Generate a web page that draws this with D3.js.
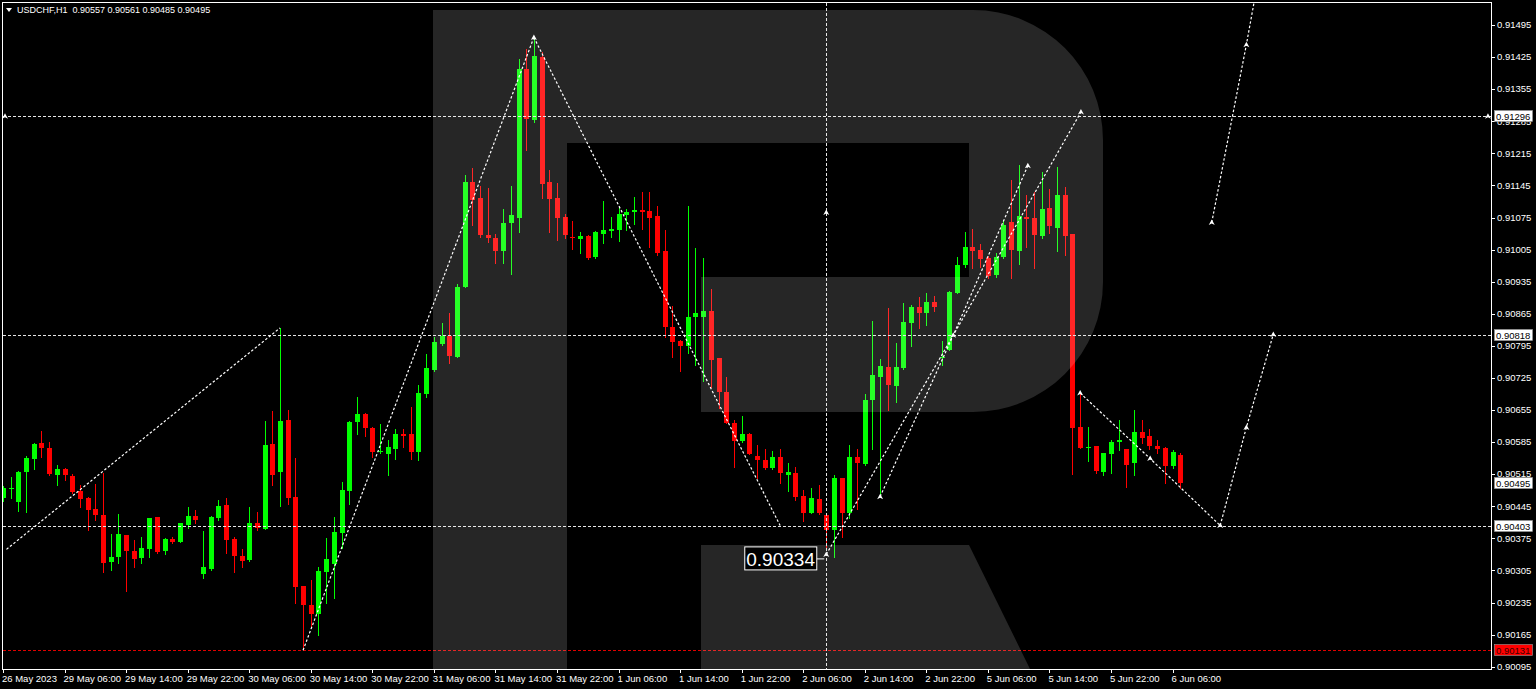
<!DOCTYPE html>
<html><head><meta charset="utf-8">
<script src="https://cdn.jsdelivr.net/npm/d3@7"></script>
<style>html,body{margin:0;padding:0;background:#000;overflow:hidden}svg{display:block}</style>
</head><body>
<svg id="c" width="1536" height="689"></svg>
<script>
// ---------- DATA ----------
const symbol = "USDCHF,H1";
const opens = [0.90462,0.90484,0.90455,0.90519,0.90549,0.90584,0.90573,0.90513,0.90527,0.90512,
0.90478,0.90464,0.90439,0.90426,0.90324,0.90335,0.90382,0.90348,0.90333,0.90351,
0.90421,0.90347,0.90374,0.90368,0.90405,0.90423,0.90297,0.90309,0.90419,0.90447,
0.90373,0.90337,0.90328,0.90408,0.90396,0.90581,0.90520,0.90634,0.90466,0.90271,
0.90229,0.90210,0.90302,0.90320,0.90387,0.90479,0.90628,0.90646,0.90616,0.90563,
0.90559,0.90570,0.90603,0.90603,0.90564,0.90691,0.90742,0.90800,0.90816,0.90771,
0.90924,0.91152,0.91117,0.91037,0.91031,0.91003,0.91062,0.91075,0.91398,0.91288,
0.91426,0.91152,0.91117,0.91077,0.91033,0.91029,0.91035,0.90988,0.91039,0.91046,
0.91048,0.91080,0.91087,0.91091,0.91089,0.91079,0.91002,0.90837,0.90806,0.90795,
0.90857,0.90859,0.90871,0.90768,0.90695,0.90627,0.90588,0.90603,0.90555,0.90547,
0.90528,0.90553,0.90513,0.90518,0.90467,0.90431,0.90460,0.90426,0.90393,0.90506,
0.90430,0.90553,0.90537,0.90676,0.90728,0.90749,0.90707,0.90746,0.90845,0.90879,
0.90866,0.90891,0.90770,0.90786,0.90911,0.90971,0.91010,0.91004,0.90986,0.90950,
0.90989,0.91066,0.91003,0.91077,0.91073,0.91035,0.91096,0.91053,0.91124,0.91038,
0.90617,0.90572,0.90576,0.90520,0.90559,0.90586,0.90569,0.90539,0.90606,0.90599,
0.90576,0.90573,0.90532,0.90557];
const highs = [0.90489,0.90509,0.90521,0.90555,0.90582,0.90609,0.90586,0.90535,0.90529,0.90515,
0.90491,0.90466,0.90493,0.90518,0.90384,0.90428,0.90383,0.90371,0.90377,0.90420,
0.90422,0.90376,0.90377,0.90409,0.90443,0.90437,0.90391,0.90424,0.90459,0.90464,
0.90377,0.90351,0.90443,0.90433,0.90630,0.90653,0.90834,0.90655,0.90550,0.90272,
0.90285,0.90313,0.90376,0.90421,0.90499,0.90630,0.90684,0.90648,0.90619,0.90624,
0.90589,0.90613,0.90613,0.90662,0.90709,0.90777,0.90814,0.90845,0.90866,0.90930,
0.91168,0.91182,0.91144,0.91140,0.91040,0.91094,0.91144,0.91421,0.91443,0.91468,
0.91437,0.91179,0.91150,0.91082,0.91068,0.91043,0.91036,0.91046,0.91111,0.91077,
0.91097,0.91094,0.91120,0.91130,0.91131,0.91100,0.91048,0.90883,0.90808,0.91100,
0.91008,0.90986,0.90918,0.90769,0.90728,0.90633,0.90643,0.90604,0.90579,0.90571,
0.90566,0.90571,0.90540,0.90531,0.90480,0.90484,0.90491,0.90427,0.90513,0.90507,
0.90579,0.90569,0.90689,0.90850,0.90766,0.90877,0.90802,0.90889,0.90884,0.90902,
0.90910,0.90904,0.90806,0.90914,0.90988,0.91044,0.91049,0.91017,0.90991,0.90998,
0.91070,0.91157,0.91190,0.91124,0.91131,0.91174,0.91137,0.91186,0.91141,0.91040,
0.90694,0.90617,0.90577,0.90562,0.90589,0.90634,0.90570,0.90654,0.90634,0.90613,
0.90590,0.90574,0.90568,0.90561];
const lows = [0.90456,0.90462,0.90435,0.90433,0.90526,0.90553,0.90513,0.90491,0.90502,0.90473,
0.90444,0.90393,0.90415,0.90302,0.90307,0.90322,0.90261,0.90313,0.90322,0.90335,
0.90342,0.90341,0.90364,0.90366,0.90398,0.90409,0.90288,0.90307,0.90415,0.90342,
0.90302,0.90312,0.90326,0.90393,0.90395,0.90491,0.90446,0.90450,0.90235,0.90131,
0.90182,0.90164,0.90233,0.90244,0.90355,0.90451,0.90603,0.90598,0.90552,0.90562,
0.90513,0.90548,0.90575,0.90548,0.90546,0.90683,0.90740,0.90797,0.90757,0.90770,
0.90923,0.91059,0.91033,0.91021,0.90976,0.90976,0.90952,0.91043,0.91222,0.91284,
0.91117,0.91044,0.91027,0.91030,0.91006,0.90998,0.90984,0.90986,0.91019,0.91033,
0.91024,0.91048,0.91061,0.91049,0.91010,0.90993,0.90815,0.90771,0.90740,0.90780,
0.90753,0.90719,0.90706,0.90659,0.90626,0.90530,0.90586,0.90559,0.90506,0.90526,
0.90526,0.90496,0.90479,0.90459,0.90413,0.90430,0.90428,0.90349,0.90334,0.90378,
0.90419,0.90440,0.90535,0.90571,0.90466,0.90655,0.90673,0.90744,0.90795,0.90833,
0.90840,0.90872,0.90753,0.90785,0.90910,0.90968,0.90964,0.90968,0.90942,0.90946,
0.90986,0.90942,0.90974,0.91010,0.90964,0.91030,0.91042,0.91003,0.90993,0.90515,
0.90572,0.90543,0.90518,0.90513,0.90518,0.90567,0.90486,0.90514,0.90582,0.90570,
0.90561,0.90495,0.90529,0.90485];
const closes = [0.90484,0.90485,0.90520,0.90550,0.90581,0.90572,0.90515,0.90526,0.90513,0.90476,
0.90461,0.90437,0.90426,0.90322,0.90334,0.90384,0.90347,0.90330,0.90353,0.90419,
0.90346,0.90374,0.90368,0.90408,0.90424,0.90415,0.90313,0.90422,0.90446,0.90371,
0.90336,0.90326,0.90408,0.90397,0.90578,0.90513,0.90632,0.90462,0.90269,0.90229,
0.90210,0.90304,0.90330,0.90389,0.90480,0.90629,0.90646,0.90616,0.90564,0.90566,
0.90574,0.90603,0.90599,0.90564,0.90693,0.90747,0.90804,0.90816,0.90773,0.90924,
0.91153,0.91113,0.91037,0.91031,0.91003,0.91062,0.91080,0.91398,0.91290,0.91427,
0.91148,0.91115,0.91075,0.91037,0.91030,0.91035,0.90986,0.91044,0.91048,0.91050,
0.91083,0.91088,0.91091,0.91086,0.91075,0.90998,0.90837,0.90804,0.90795,0.90859,
0.90866,0.90871,0.90764,0.90695,0.90627,0.90588,0.90603,0.90560,0.90547,0.90528,
0.90553,0.90517,0.90520,0.90466,0.90430,0.90462,0.90430,0.90393,0.90506,0.90430,
0.90553,0.90539,0.90677,0.90731,0.90751,0.90709,0.90748,0.90848,0.90879,0.90867,
0.90891,0.90880,0.90771,0.90913,0.90971,0.91010,0.91003,0.90984,0.90947,0.90989,
0.91059,0.91004,0.91079,0.91071,0.91037,0.91094,0.91056,0.91124,0.91035,0.90615,
0.90573,0.90575,0.90522,0.90561,0.90585,0.90590,0.90535,0.90606,0.90595,0.90576,
0.90571,0.90533,0.90563,0.90495];
const timeLabels = ["26 May 2023","29 May 06:00","29 May 14:00","29 May 22:00","30 May 06:00",
"30 May 14:00","30 May 22:00","31 May 06:00","31 May 14:00","31 May 22:00","1 Jun 06:00",
"1 Jun 14:00","1 Jun 22:00","2 Jun 06:00","2 Jun 14:00","2 Jun 22:00","5 Jun 06:00",
"5 Jun 14:00","5 Jun 22:00","6 Jun 06:00"];
const barsPerLabel = 8;
const priceTicks = [0.91495,0.91425,0.91355,0.91285,0.91215,0.91145,0.91075,0.91005,0.90935,
0.90865,0.90795,0.90725,0.90655,0.90585,0.90515,0.90445,0.90375,0.90305,0.90235,0.90165,0.90095];
const levelLines = [0.91296, 0.90818, 0.90403];
const supportLevel = 0.90131;
const verticalLineBar = 107;
const lowMarker = {bar:107, price:0.90340, text:"0.90334"};
// forecast paths: [bar index, price]
const forecastLines = [
  [[0.45,0.90351],[36,0.90834]],
  [[39,0.90131],[69,0.91468]],
  [[69,0.91468],[101,0.90403]],
  [[107,0.90340],[123.5,0.90818],[140.1,0.91305]],
  [[114,0.90466],[123.5,0.90818],[133.2,0.91188]],
  [[140,0.90692],[149.1,0.90549],[158.2,0.90403]],
  [[158.2,0.90403],[161.6,0.90617],[165.1,0.90820]],
  [[157.1,0.91064],[161.6,0.91452],[163.2,0.91600]]
];
const arrowMarks = [[0.26,0.91296],[193,0.91296],[69,0.91468],[107,0.91086],[107,0.90340],
  [114,0.90466],[123.5,0.90818],[133.2,0.91188],[140.1,0.91305],[140,0.90692],[149.1,0.90549],
  [158.2,0.90403],[161.6,0.90617],[165.1,0.90820],[157.1,0.91064],[161.6,0.91452]];

// ---------- DRAW ----------
const W=1536,H=689;
const P={l:3,t:3,r:1491,b:669};
const FONT="'Liberation Sans', Arial, sans-serif";
const x=d3.scaleLinear().domain([0,152]).range([3,1172.5]);
const y=d3.scaleLinear().domain([0.90095,0.91495]).range([666.7,25]);
const svg=d3.select('#c');
svg.append('rect').attr('width',W).attr('height',H).attr('fill','#000');
svg.append('defs').append('clipPath').attr('id','clip').append('rect')
  .attr('x',P.l).attr('y',P.t).attr('width',P.r-P.l).attr('height',P.b-P.t);
const g=svg.append('g').attr('clip-path','url(#clip)');

const bars=opens.map((o,i)=>({i,o,h:highs[i],l:lows[i],c:closes[i]}));
const GREEN='#00ff00', RED='#ff0000';
const cg=g.append('g').attr('shape-rendering','crispEdges');
cg.selectAll('line.w').data(bars).join('line').attr('class','w')
  .attr('x1',d=>Math.round(x(d.i))+0.5).attr('x2',d=>Math.round(x(d.i))+0.5)
  .attr('y1',d=>Math.round(y(d.h))).attr('y2',d=>Math.round(y(d.l))+1)
  .attr('stroke',d=>d.c>=d.o?GREEN:RED).attr('stroke-width',1);
cg.selectAll('rect.b').data(bars).join('rect').attr('class','b')
  .attr('x',d=>Math.round(x(d.i))-2).attr('width',5)
  .attr('y',d=>Math.round(y(Math.max(d.o,d.c))))
  .attr('height',d=>Math.max(1,Math.round(y(Math.min(d.o,d.c)))-Math.round(y(Math.max(d.o,d.c)))))
  .attr('fill',d=>d.c>=d.o?GREEN:RED);

// level lines
const lg=g.append('g').attr('shape-rendering','crispEdges');
lg.selectAll('line.lv').data(levelLines).join('line')
  .attr('x1',P.l).attr('x2',P.r).attr('y1',d=>Math.round(y(d))+0.5).attr('y2',d=>Math.round(y(d))+0.5)
  .attr('stroke','#e6e6e6').attr('stroke-dasharray','3,2');
lg.append('line').attr('x1',P.l).attr('x2',P.r)
  .attr('y1',Math.round(y(supportLevel))+0.5).attr('y2',Math.round(y(supportLevel))+0.5)
  .attr('stroke','#e00000').attr('stroke-dasharray','3,2');
lg.append('line').attr('x1',Math.round(x(verticalLineBar))+0.5).attr('x2',Math.round(x(verticalLineBar))+0.5)
  .attr('y1',P.t).attr('y2',P.b).attr('stroke','#e6e6e6').attr('stroke-dasharray','3,2');

// forecast lines
const line=d3.line().x(d=>x(d[0])).y(d=>y(d[1]));
g.selectAll('path.fc').data(forecastLines).join('path')
  .attr('d',line).attr('fill','none').attr('stroke','#ffffff').attr('stroke-width',1.2)
  .attr('stroke-dasharray','2.5,2');
g.selectAll('path.am').data(arrowMarks).join('path')
  .attr('transform',d=>`translate(${x(d[0])},${y(d[1])})`)
  .attr('d','M-3,2.5 L0,-3 L3,2.5 L0,1 Z').attr('fill','#fff');

// watermark (logo, drawn over as a translucent shape)
g.append('path')
  .attr('d','M433,10 H567 V669 H433 Z M567,10 H973 A130,130 0 0 1 1103,140 V282 A130,130 0 0 1 973,412 H701 V277 H969 V143 H567 Z M701,545 H969 L1030,669 H701 Z')
  .attr('fill','rgba(255,255,255,0.15)');

// frame
svg.append('rect').attr('x',P.l-0.5).attr('y',P.t-0.5).attr('width',P.r-P.l+1).attr('height',P.b-P.t+1)
  .attr('fill','none').attr('stroke','#ffffff').attr('stroke-width',1).attr('shape-rendering','crispEdges');

// price axis
const pa=svg.append('g').attr('font-family',FONT).attr('font-size','9.5px').attr('fill','#fff');
pa.selectAll('line').data(priceTicks).join('line').attr('shape-rendering','crispEdges')
  .attr('x1',P.r).attr('x2',P.r+4).attr('y1',d=>Math.round(y(d))+0.5).attr('y2',d=>Math.round(y(d))+0.5)
  .attr('stroke','#fff');
pa.selectAll('text').data(priceTicks).join('text')
  .attr('x',1497).attr('y',d=>y(d)+3.3).text(d=>d.toFixed(5));

// time axis
const ta=svg.append('g').attr('font-family',FONT).attr('font-size','9.5px').attr('fill','#fff');
ta.selectAll('line').data(timeLabels).join('line').attr('shape-rendering','crispEdges')
  .attr('x1',(d,k)=>Math.round(x(k*barsPerLabel))+0.5).attr('x2',(d,k)=>Math.round(x(k*barsPerLabel))+0.5)
  .attr('y1',P.b).attr('y2',P.b+4).attr('stroke','#fff');
ta.selectAll('text').data(timeLabels).join('text')
  .attr('x',(d,k)=>x(k*barsPerLabel)-1).attr('y',681.5).text(d=>d);

// price boxes on axis
function box(p,txt,bg,fg){
  const yy=Math.round(y(p));
  svg.append('rect').attr('x',1494.5).attr('y',yy-5.5).attr('width',38).attr('height',11)
    .attr('fill',bg).attr('stroke','#999').attr('stroke-width',0.6);
  svg.append('text').attr('x',1496).attr('y',yy+3.5).attr('font-family',FONT).attr('font-size','9.5px')
    .attr('fill',fg).text(txt);
}
levelLines.forEach(p=>box(p,p.toFixed(5),'#fff','#000'));
box(closes[closes.length-1],closes[closes.length-1].toFixed(5),'#fff','#000');
box(supportLevel,supportLevel.toFixed(5),'#ff0000','#3a0000');

// low label
const lx=x(lowMarker.bar), ly=y(lowMarker.price);
svg.append('line').attr('x1',lx-10).attr('x2',lx-2).attr('y1',ly+4.5).attr('y2',ly+4.5).attr('stroke','#fff');
svg.append('rect').attr('x',lx-81.5).attr('y',ly-7.5).attr('width',72).attr('height',23)
  .attr('fill','#000').attr('stroke','#fff').attr('stroke-width',1);
svg.append('text').attr('x',lx-80).attr('y',ly+11.5).attr('font-family',FONT).attr('font-size','19px')
  .attr('fill','#fff').text(lowMarker.text);

// title
svg.append('path').attr('d','M6,8 L12,8 L9,12 Z').attr('fill','#fff');
const last=bars[bars.length-1];
svg.append('text').attr('x',17).attr('y',13).attr('font-family',FONT).attr('font-size','9px')
  .attr('fill','#fff').attr('xml:space','preserve')
  .text(`${symbol}  ${last.o.toFixed(5)} ${last.h.toFixed(5)} ${last.l.toFixed(5)} ${last.c.toFixed(5)}`);
</script>
</body></html>
